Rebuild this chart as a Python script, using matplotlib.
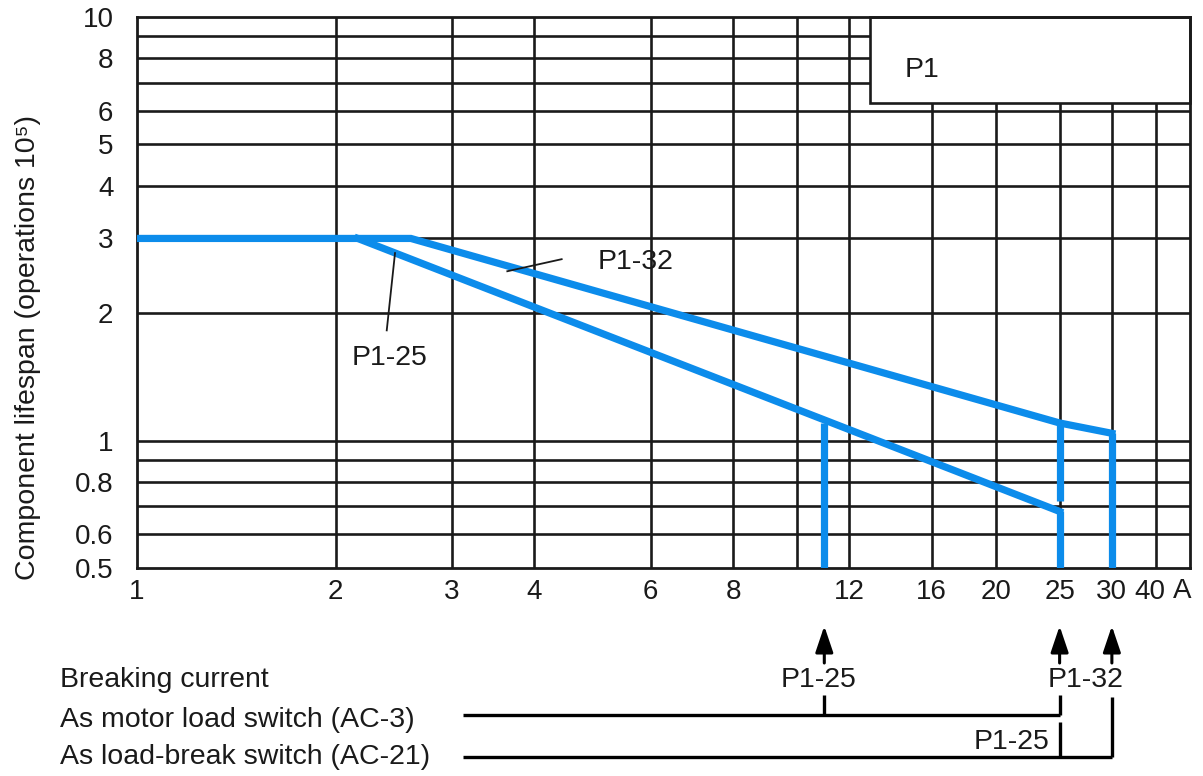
import numpy as np
import matplotlib
matplotlib.use('Agg')
from matplotlib import pyplot as plt
from matplotlib import transforms
from matplotlib.patches import Rectangle

plt.rcParams['font.family'] = ['Liberation Sans', 'DejaVu Sans']

# lifespan curves: current (A) vs. lifespan (operations 10^5)
p1_32_x = [1, 2.6, 25, 30]
p1_32_y = [3.0, 3.0, 1.1, 1.04]
p1_25_x = [2.16, 25]
p1_25_y = [3.0, 0.68]

# vertical cut-offs at the breaking currents
cut_x = [11, 25, 25, 30]
cut_top = [1.1, 1.1, 0.68, 1.04]
cut_bottom = [0.5, 0.72, 0.5, 0.5]

x_grid = [2, 3, 4, 6, 8, 10, 12, 16, 20, 25, 30, 35]
x_ticks = [1, 2, 3, 4, 6, 8, 12, 16, 20, 25, 30, 35]
x_labels = ['1', '2', '3', '4', '6', '8', '12', '16', '20', '25', '30', '40']
y_grid = [0.6, 0.7, 0.8, 0.9, 1, 2, 3, 4, 5, 6, 7, 8, 9]
y_ticks = [0.5, 0.6, 0.8, 1, 2, 3, 4, 5, 6, 8, 10]
y_labels = ['0.5', '0.6', '0.8', '1', '2', '3', '4', '5', '6', '8', '10']

# breaking currents (A)
ac3_p1_25, ac3_p1_32 = 11, 25
ac21_p1_25, ac21_p1_32 = 25, 30

blue = '#0c8ceb'
ink = '#1a1a1a'
fs = 20.5
W, H = 1203, 776


def fy(py):
    return 1 - py / H


fig = plt.figure(figsize=(W / 100, H / 100), dpi=100)
ax = fig.add_axes([137 / W, 1 - 568 / H, (1190 - 137) / W, (568 - 17) / H])
ax.set_xscale('log')
ax.set_yscale('log')
ax.set_xlim(1, 39.4)
ax.set_ylim(0.5, 10)

for x in x_grid:
    ax.axvline(x, color=ink, lw=1.9, zorder=1)
for y in y_grid:
    ax.axhline(y, color=ink, lw=1.9, zorder=1)

ax.set_xticks(x_ticks)
ax.set_xticklabels(x_labels)
ax.set_yticks(y_ticks)
ax.set_yticklabels(y_labels)
ax.minorticks_off()
ax.tick_params(axis='both', length=0, labelsize=20, colors=ink)
ax.tick_params(axis='x', pad=8)
ax.tick_params(axis='y', pad=17)
for s in ax.spines.values():
    s.set_linewidth(2)
    s.set_color(ink)

# shift the last x label a little left so "40 A" reads as in the original
last = ax.get_xticklabels()[-1]
last.set_transform(last.get_transform() + transforms.ScaledTranslation(-6 / 100, 0, fig.dpi_scale_trans))

# P1 box in the upper right corner
ax.add_patch(Rectangle((0.696, 0.844), 0.304, 0.156, transform=ax.transAxes,
                       facecolor='white', edgecolor=ink, lw=1.9, zorder=2, clip_on=False))
ax.text(0.729, 0.904, 'P1', transform=ax.transAxes, fontsize=fs, color=ink,
        va='center', ha='left', zorder=3)

ax.plot(p1_32_x, p1_32_y, color=blue, lw=5.2, solid_joinstyle='miter', zorder=4)
ax.plot(p1_25_x, p1_25_y, color=blue, lw=5.2, solid_joinstyle='miter', zorder=4)
for x, t, b in zip(cut_x, cut_top, cut_bottom):
    ax.plot([x, x], [t, b], color=blue, lw=5.2, solid_capstyle='butt', zorder=4)

# curve labels with leader lines
ax.plot([3.64, 4.40], [2.51, 2.68], color=ink, lw=1.3, zorder=5)
ax.text(4.98, 2.64, 'P1-32', fontsize=fs, color=ink, va='center', ha='left')
ax.plot([2.46, 2.39], [2.77, 1.82], color=ink, lw=1.3, zorder=5)
ax.text(2.41, 1.57, 'P1-25', fontsize=fs, color=ink, va='center', ha='center')

ax.text(0.993, fy(591), 'A', transform=transforms.blended_transform_factory(ax.transAxes, fig.transFigure),
        fontsize=20, color=ink, va='center', ha='center')

fig.text(28 / W, fy(348), 'Component lifespan (operations 10⁵)', rotation=90,
         fontsize=fs, color=ink, va='center', ha='center')

# breaking current scheme below the chart
tr = transforms.blended_transform_factory(ax.transData, fig.transFigure)
for x in [ac3_p1_25, ac3_p1_32, ac21_p1_32]:
    ax.annotate('', xy=(x, fy(626)), xytext=(x, fy(663)), xycoords=tr, textcoords=tr,
                annotation_clip=False,
                arrowprops=dict(arrowstyle='-|>,head_length=0.8,head_width=0.27',
                                color='black', lw=2.2, mutation_scale=20, shrinkA=0, shrinkB=0))

line_start = 3.12
kw = dict(color='black', lw=2.4, transform=tr, clip_on=False, solid_capstyle='butt')
ax.plot([line_start, ac3_p1_32], [fy(715), fy(715)], **kw)
ax.plot([ac3_p1_25, ac3_p1_25], [fy(695), fy(715)], **kw)
ax.plot([ac3_p1_32, ac3_p1_32], [fy(695), fy(715)], **kw)
ax.plot([line_start, ac21_p1_32], [fy(757), fy(757)], **kw)
ax.plot([ac21_p1_25, ac21_p1_25], [fy(722), fy(757)], **kw)
ax.plot([ac21_p1_32, ac21_p1_32], [fy(697), fy(757)], **kw)

ax.text(10.8, fy(680), 'P1-25', transform=tr, fontsize=fs, color=ink, ha='center', va='center')
ax.text(27.4, fy(680), 'P1-32', transform=tr, fontsize=fs, color=ink, ha='center', va='center')
ax.text(24.1, fy(742), 'P1-25', transform=tr, fontsize=fs, color=ink, ha='right', va='center')

fig.text(60 / W, fy(680), 'Breaking current', fontsize=fs, color=ink, va='center')
fig.text(60 / W, fy(720), 'As motor load switch (AC-3)', fontsize=fs, color=ink, va='center')
fig.text(60 / W, fy(757), 'As load-break switch (AC-21)', fontsize=fs, color=ink, va='center')

fig.savefig('out.png', dpi=100, facecolor='white')
